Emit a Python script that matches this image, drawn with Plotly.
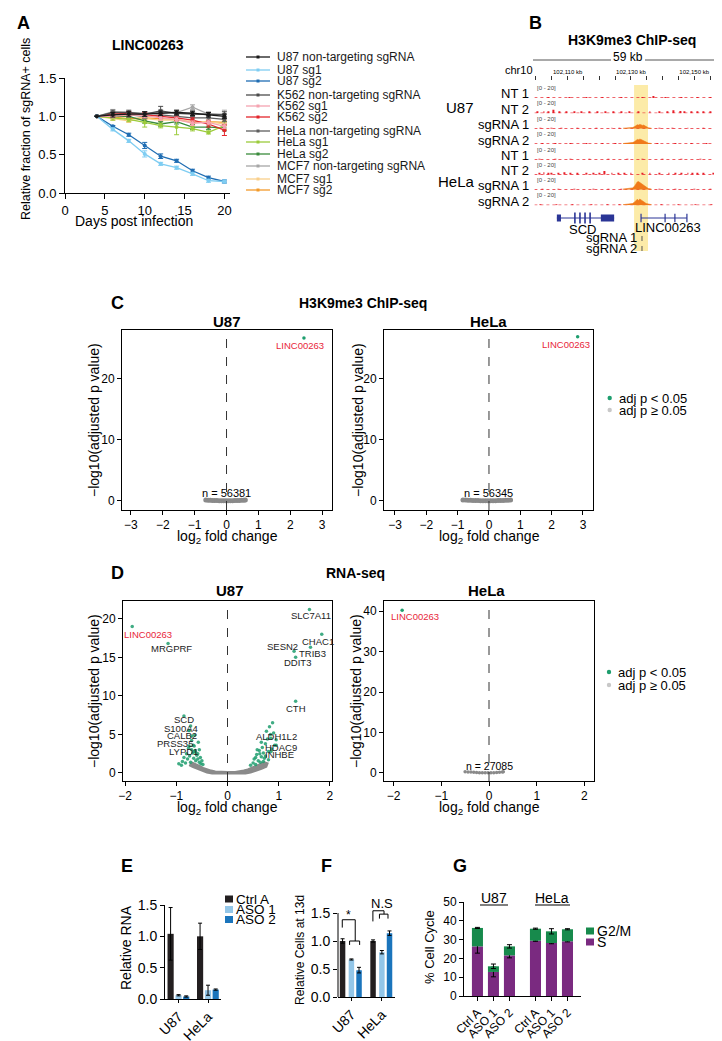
import plotly.graph_objects as go

W, H = 722, 1041
FONT = "Liberation Sans, Arial, Helvetica, sans-serif"

# ================= Panel A data =================
days = [4, 6, 8, 10, 12, 14, 16, 18, 20]
u87_nt = [1.00, 1.02, 1.03, 1.03, 1.04, 1.05, 1.04, 1.02, 1.00]
u87_nt_err = [0.00, 0.03, 0.03, 0.03, 0.03, 0.03, 0.03, 0.03, 0.03]
u87_sg1 = [1.00, 0.83, 0.68, 0.51, 0.38, 0.33, 0.25, 0.16, 0.15]
u87_sg1_err = [0.00, 0.02, 0.02, 0.04, 0.02, 0.02, 0.02, 0.02, 0.02]
u87_sg2 = [1.00, 0.87, 0.76, 0.62, 0.48, 0.42, 0.29, 0.20, 0.15]
u87_sg2_err = [0.00, 0.01, 0.02, 0.04, 0.03, 0.02, 0.02, 0.02, 0.02]
k562_nt = [1.00, 1.05, 1.05, 1.03, 1.07, 1.04, 1.03, 1.03, 1.02]
k562_nt_err = [0.00, 0.03, 0.03, 0.03, 0.06, 0.03, 0.03, 0.02, 0.04]
k562_sg1 = [1.00, 1.00, 1.02, 1.01, 0.98, 0.96, 0.91, 0.92, 0.87]
k562_sg1_err = [0.00, 0.02, 0.02, 0.03, 0.03, 0.03, 0.03, 0.03, 0.03]
k562_sg2 = [1.00, 1.03, 1.04, 1.02, 1.00, 0.98, 0.95, 0.90, 0.82]
k562_sg2_err = [0.00, 0.02, 0.02, 0.03, 0.03, 0.03, 0.03, 0.04, 0.07]
hela_nt = [1.00, 1.03, 1.02, 1.00, 1.02, 1.00, 0.98, 0.98, 0.96]
hela_nt_err = [0.00, 0.03, 0.03, 0.03, 0.03, 0.03, 0.03, 0.03, 0.03]
hela_sg1 = [1.00, 0.98, 0.96, 0.92, 0.88, 0.86, 0.84, 0.79, 0.88]
hela_sg1_err = [0.00, 0.03, 0.03, 0.06, 0.03, 0.10, 0.03, 0.02, 0.05]
hela_sg2 = [1.00, 1.00, 1.00, 0.94, 0.90, 0.93, 0.86, 0.86, 0.85]
hela_sg2_err = [0.00, 0.02, 0.02, 0.03, 0.03, 0.03, 0.03, 0.03, 0.04]
mcf7_nt = [1.00, 1.06, 1.05, 1.04, 1.05, 1.05, 1.12, 1.03, 1.03]
mcf7_nt_err = [0.00, 0.03, 0.02, 0.02, 0.04, 0.03, 0.03, 0.03, 0.05]
mcf7_sg1 = [1.00, 0.97, 0.94, 0.97, 0.95, 0.95, 0.93, 0.93, 0.90]
mcf7_sg1_err = [0.00, 0.02, 0.02, 0.02, 0.02, 0.02, 0.02, 0.02, 0.02]
mcf7_sg2 = [1.00, 0.99, 0.97, 0.98, 0.97, 0.96, 0.92, 0.93, 0.92]
mcf7_sg2_err = [0.00, 0.02, 0.02, 0.02, 0.02, 0.02, 0.02, 0.02, 0.02]
a_names = ["U87 non-targeting sgRNA", "U87 sg1", "U87 sg2",
           "K562 non-targeting sgRNA", "K562 sg1", "K562 sg2",
           "HeLa non-targeting sgRNA", "HeLa sg1", "HeLa sg2",
           "MCF7 non-targeting sgRNA", "MCF7 sg1", "MCF7 sg2"]
a_colors = ["#1a1a1a", "#7fcdf2", "#1f6db3", "#4d4d4d", "#f5a3b0", "#e3262c",
            "#5e5e5e", "#9bcb3b", "#3a8b3c", "#a6a6a6", "#f9cf8a", "#f39a2a"]
a_values = [u87_nt, u87_sg1, u87_sg2, k562_nt, k562_sg1, k562_sg2,
            hela_nt, hela_sg1, hela_sg2, mcf7_nt, mcf7_sg1, mcf7_sg2]
a_errors = [u87_nt_err, u87_sg1_err, u87_sg2_err, k562_nt_err, k562_sg1_err, k562_sg2_err,
            hela_nt_err, hela_sg1_err, hela_sg2_err, mcf7_nt_err, mcf7_sg1_err, mcf7_sg2_err]

# ================= Panel B data (kb, chr10) =================
genome_window = [102099.5, 102158.5]
ruler_ticks_kb = [102100, 102105, 102110, 102115, 102120, 102125,
                  102130, 102135, 102140, 102145, 102150, 102155]
ruler_labels = ["", "", "102,110 kb", "", "", "", "102,130 kb", "", "", "", "102,150 kb", ""]
track_labels = ["NT 1", "NT 2", "sgRNA 1", "sgRNA 2", "NT 1", "NT 2", "sgRNA 1", "sgRNA 2"]
u87_nt1_pos = [102104.0, 102110.5, 102116.0, 102121.0, 102127.0, 102133.5, 102137.0, 102141.0, 102146.0, 102151.0, 102155.0]
u87_nt1_h = [0.8, 0.8, 0.8, 0.8, 0.8, 1.5, 3.0, 0.8, 0.8, 0.8, 0.8]
u87_nt2_pos = [102100.5, 102102.5, 102104.0, 102105.5, 102107.5, 102109.5, 102112.0, 102114.5, 102117.0,
               102119.5, 102122.0, 102124.5, 102127.0, 102129.5, 102132.5, 102136.0, 102139.0, 102141.5,
               102143.5, 102145.5, 102147.0, 102149.0, 102151.0, 102153.0, 102155.0, 102157.5]
u87_nt2_h = [2, 3, 2.5, 6, 2, 3, 2, 3, 2, 2, 3, 2, 3, 2, 3, 2, 2, 2, 5, 4, 2, 3, 3, 2, 2, 5]
u87_sg1_pos = [102101.5, 102105.0, 102108.0, 102113.0, 102119.0, 102124.0, 102126.5, 102139.0, 102143.0, 102148.0, 102153.0, 102157.0]
u87_sg1_h = [0.8, 0.8, 0.8, 0.8, 0.8, 0.8, 1.5, 1.2, 0.8, 0.8, 0.8, 1.0]
u87_sg2_pos = [102102.0, 102106.0, 102111.0, 102116.0, 102121.0, 102125.0, 102138.5, 102144.0, 102149.0, 102154.0]
u87_sg2_h = [0.8, 0.8, 0.8, 0.8, 0.8, 1.2, 1.2, 0.8, 0.8, 0.8]
hela_nt1_pos = [102101.0, 102106.0, 102111.0, 102117.0, 102123.0, 102129.0, 102133.5, 102140.0, 102146.0, 102152.0, 102157.0]
hela_nt1_h = [0.8, 0.8, 0.8, 0.8, 0.8, 0.8, 1.5, 0.8, 0.8, 0.8, 0.8]
hela_nt2_pos = [102101.0, 102102.5, 102104.0, 102105.0, 102107.0, 102109.0, 102111.0, 102113.0, 102116.0,
                102118.0, 102120.0, 102121.5, 102124.0, 102126.0, 102128.0, 102130.0, 102133.5, 102136.0,
                102139.0, 102142.0, 102144.0, 102146.0, 102148.0, 102149.5, 102151.0, 102153.0, 102156.0]
hela_nt2_h = [2, 4, 3, 2, 3, 4, 2, 2, 2, 2, 3, 6, 3, 2, 2, 2, 2, 2, 3, 3, 2, 2, 3, 3, 3, 2, 2]
hela_sg1_pos = [102102.0, 102107.0, 102112.0, 102118.0, 102123.0, 102127.0, 102139.0, 102144.0, 102150.0, 102155.0]
hela_sg1_h = [0.8, 1.0, 0.8, 0.8, 0.8, 1.5, 1.2, 0.8, 1.2, 0.8]
hela_sg2_pos = [102101.5, 102106.5, 102111.5, 102117.5, 102122.5, 102126.5, 102139.5, 102145.0, 102150.5, 102155.5]
hela_sg2_h = [0.8, 0.8, 0.8, 0.8, 0.8, 1.5, 1.2, 0.8, 0.8, 0.8]
peak_pos = [102127.5, 102128.5, 102129.5, 102130.5, 102131.2, 102131.6, 102132.0, 102132.4,
            102132.8, 102133.2, 102133.6, 102134.0, 102134.4, 102134.8, 102135.5, 102136.5]
u87_sg1_peak = [0.8, 1.0, 1.2, 2.0, 3.5, 5.0, 6.5, 6.0, 7.0, 6.5, 5.5, 6.0, 4.5, 3.0, 1.5, 0.8]
u87_sg2_peak = [0.8, 1.0, 1.5, 2.5, 4.0, 6.0, 7.5, 7.0, 8.0, 7.5, 6.5, 5.5, 4.5, 3.0, 1.5, 0.8]
hela_sg1_peak = [1.0, 1.5, 2.0, 3.0, 6.0, 10.0, 13.0, 13.5, 12.0, 10.0, 8.5, 7.0, 5.5, 3.5, 2.0, 1.0]
hela_sg2_peak = [1.0, 1.5, 2.0, 3.0, 5.5, 8.5, 10.0, 8.0, 10.5, 9.0, 7.0, 6.0, 4.5, 3.0, 1.8, 1.0]
scd_span = [102106.6, 102124.7]
scd_blocks = [[102106.6, 102107.9], [102120.5, 102124.7]]
scd_thin_exons = [102112.3, 102113.9, 102115.5, 102117.1]
linc_span = [102133.2, 102147.7]
linc_exons = [102133.2, 102140.8, 102143.9, 102147.7]
sgrna_site_kb = 102133.5
highlight_kb = [102131.0, 102135.4]

# ================= Panel C data =================
c_u87_sig_fc = [2.43]
c_u87_sig_p = [26.7]
c_u87_ns_fc = [-0.65, -0.58, -0.51, -0.44, -0.37, -0.30, -0.23, -0.16, -0.09, -0.02,
               0.05, 0.12, 0.19, 0.26, 0.33, 0.40, 0.47, 0.54, 0.59]
c_u87_ns_p = [0.15, 0.10, 0.08, 0.06, 0.05, 0.04, 0.03, 0.02, 0.02, 0.01,
              0.02, 0.02, 0.03, 0.04, 0.05, 0.06, 0.08, 0.10, 0.14]
c_hela_sig_fc = [2.83]
c_hela_sig_p = [26.9]
c_hela_ns_fc = [-0.83, -0.75, -0.67, -0.59, -0.51, -0.43, -0.35, -0.27, -0.19, -0.11,
                -0.03, 0.05, 0.13, 0.21, 0.29, 0.37, 0.45, 0.53, 0.61, 0.69]
c_hela_ns_p = [0.15, 0.12, 0.10, 0.08, 0.06, 0.05, 0.04, 0.03, 0.02, 0.02,
               0.01, 0.02, 0.02, 0.03, 0.04, 0.05, 0.06, 0.08, 0.10, 0.13]

# ================= Panel D data =================
d_u87_ns_fc = [-0.70, -0.62, -0.55, -0.48, -0.40, -0.32, -0.24, -0.15, 0.00, 0.15, 0.24, 0.32, 0.40,
               0.48, 0.56, 0.64, 0.72, 0.77, 0.75, 0.66, 0.56, 0.45, 0.35, 0.00, -0.30, -0.40,
               -0.50, -0.60, -0.68, -0.72]
d_u87_ns_p = [1.30, 1.10, 0.85, 0.60, 0.40, 0.25, 0.14, 0.07, 0.05, 0.07, 0.14, 0.25, 0.40,
              0.60, 0.85, 1.10, 1.30, 1.20, 0.85, 0.60, 0.35, 0.12, 0.00, 0.00, 0.00, 0.12,
              0.35, 0.60, 0.85, 1.00]
d_u87_sig_fc = [-0.95, -0.90, -0.88, -0.85, -0.82, -0.80, -0.78, -0.76, -0.74, -0.72, -0.70, -0.70,
                -0.68, -0.66, -0.65, -0.63, -0.62, -0.60, -0.58, -0.57, -0.55, -0.53, -0.52, -0.50,
                -0.48, -0.75, -0.72, -0.64, -0.67, -0.62, -0.58, -0.55,
                0.45, 0.50, 0.52, 0.55, 0.57, 0.60, 0.62, 0.64, 0.66, 0.68, 0.70, 0.72, 0.74,
                0.76, 0.78, 0.80, 0.82, 0.84, 0.86, 0.88, 0.90, 0.92, 0.95, 0.63, 0.55, 0.70,
                0.58, 0.66, 0.74, 0.80]
d_u87_sig_p = [1.2, 1.0, 1.5, 2.0, 1.3, 2.5, 1.8, 3.2, 2.2, 1.4, 3.0, 4.2,
               2.6, 1.9, 3.5, 2.9, 1.6, 2.3, 1.8, 4.0, 1.4, 2.0, 1.2, 1.6,
               1.1, 5.5, 6.1, 4.9, 3.6, 2.7, 2.5, 3.0,
               1.0, 1.3, 1.8, 1.1, 2.4, 1.6, 2.9, 1.4, 2.1, 3.3, 2.6, 1.9, 3.8,
               5.4, 4.4, 2.8, 6.0, 5.0, 3.1, 6.5, 5.2, 3.6, 4.3, 2.5, 2.0, 1.5,
               3.0, 4.0, 2.2, 1.7]
d_u87_genes = ["LINC00263", "MRGPRF", "SLC7A11", "CHAC1", "SESN2", "TRIB3", "DDIT3", "CTH",
               "SCD", "S100A4", "CALB2", "PRSS35", "LYPD1", "ALDH1L2", "HDAC9", "INHBE"]
d_u87_gene_fc = [-1.86, -1.16, 1.60, 1.84, 1.30, 1.62, 1.33, 1.33,
                 -0.85, -0.75, -0.70, -0.75, -0.65, 0.85, 0.95, 0.85]
d_u87_gene_p = [19.0, 16.8, 21.2, 18.0, 15.8, 16.3, 15.0, 9.3,
                7.4, 5.5, 4.8, 3.5, 2.8, 4.5, 3.6, 2.8]
d_u87_label_fc = [-1.55, -1.10, 1.63, 1.77, 1.08, 1.65, 1.37, 1.34,
                  -0.85, -0.91, -0.89, -1.03, -0.85, 0.95, 1.04, 1.02]
d_u87_label_p = [17.9, 16.2, 20.4, 17.1, 16.4, 15.5, 14.3, 8.4,
                 6.9, 5.8, 4.8, 3.8, 2.8, 4.7, 3.3, 2.4]
d_hela_sig_fc = [-1.82]
d_hela_sig_p = [40.2]
d_hela_ns_fc = [-0.50, -0.44, -0.38, -0.32, -0.26, -0.20, -0.14, -0.08, -0.02, 0.04, 0.10, 0.16, 0.22, 0.28, 0.30]
d_hela_ns_p = [0.30, 0.25, 0.20, 0.15, 0.10, 0.06, 0.04, 0.02, 0.01, 0.02, 0.04, 0.08, 0.14, 0.22, 0.28]

# ================= Panel E / F / G data =================
cell_lines = ["U87", "HeLa"]
e_ctrl = [1.04, 1.00]
e_ctrl_err = [0.42, 0.21]
e_aso1 = [0.06, 0.14]
e_aso1_err = [0.01, 0.08]
e_aso2 = [0.04, 0.15]
e_aso2_err = [0.01, 0.01]
f_ctrl = [1.00, 1.00]
f_ctrl_err = [0.04, 0.02]
f_aso1 = [0.67, 0.80]
f_aso1_err = [0.01, 0.03]
f_aso2 = [0.48, 1.14]
f_aso2_err = [0.05, 0.04]
g_labels = ["Ctrl A", "ASO 1", "ASO 2", "Ctrl A", "ASO 1", "ASO 2"]
g_s = [26.4, 12.8, 21.6, 29.4, 28.2, 29.1]
g_s_err = [3.6, 2.6, 1.3, 0.3, 0.4, 0.3]
g_g2m = [9.8, 3.0, 4.8, 6.4, 6.2, 6.4]
g_g2m_err = [0.3, 1.2, 0.9, 0.3, 1.4, 0.3]
g_pos = [0, 1, 2, 3.625, 4.625, 5.625]

C_CTRL, C_ASO1, C_ASO2 = "#231f20", "#93c6e8", "#1b75bc"
C_G2M, C_S = "#178a4c", "#7a2a80"
GREEN, GRAY, RED = "#1e9e6e", "#8a8a8a", "#e8263a"

# ================= helpers =================
fig = go.Figure()
ann, shp = [], []


def xd(a, b):
    return [a / W, b / W]


def yd(top, bottom):
    return [1 - bottom / H, 1 - top / H]


def ptext(xp, yp, s, size=12, bold=False, color="black", xanchor="center", yanchor="middle", angle=0):
    ann.append(dict(x=xp / W, y=1 - yp / H, xref="paper", yref="paper",
                    text=(f"<b>{s}</b>" if bold else s), showarrow=False,
                    font=dict(size=size, color=color, family=FONT),
                    xanchor=xanchor, yanchor=yanchor, textangle=angle, borderpad=0))


def dtext(x, y, xr, yr, s, size=9.5, color="black", xanchor="center", yanchor="middle"):
    ann.append(dict(x=x, y=y, xref=xr, yref=yr, text=s, showarrow=False,
                    font=dict(size=size, color=color, family=FONT),
                    xanchor=xanchor, yanchor=yanchor, borderpad=0))


def pline(x0, y0, x1, y1, color="black", width=1):
    shp.append(dict(type="line", xref="paper", yref="paper", x0=x0 / W, y0=1 - y0 / H,
                    x1=x1 / W, y1=1 - y1 / H, line=dict(color=color, width=width)))


def prect(x0, y0, x1, y1, color):
    shp.append(dict(type="rect", xref="paper", yref="paper", x0=x0 / W, y0=1 - y0 / H,
                    x1=x1 / W, y1=1 - y1 / H, line=dict(width=0), fillcolor=color))


def pdot(xc, yc, r, color):
    shp.append(dict(type="circle", xref="paper", yref="paper", x0=(xc - r) / W, y0=1 - (yc + r) / H,
                    x1=(xc + r) / W, y1=1 - (yc - r) / H, line=dict(width=0), fillcolor=color))


def axis(domain, rng, size=12, **kw):
    d = dict(domain=domain, range=rng, autorange=False, showgrid=False, zeroline=False,
             showline=True, linecolor="black", linewidth=1, ticks="outside", ticklen=4,
             tickwidth=1, tickcolor="black", tickfont=dict(size=size, color="black", family=FONT),
             fixedrange=True, automargin=False)
    d.update(kw)
    return d


layout = dict(width=W, height=H, margin=dict(l=0, r=0, t=0, b=0, pad=0, autoexpand=False), autosize=False,
              paper_bgcolor="white", plot_bgcolor="rgba(0,0,0,0)", showlegend=False,
              barmode="overlay", font=dict(family=FONT, color="black"))

# ================= Panel A =================
layout["xaxis"] = axis(xd(57, 222), [0, 20.7], size=13, anchor="y", ticklen=5, tickvals=[0, 5, 10, 15, 20])
layout["yaxis"] = axis(yd(70, 185), [0, 1.5], size=13, anchor="x", ticklen=5,
                       tickvals=[0, 0.5, 1.0, 1.5], tickformat=".1f")
for name, vals, errs, col in reversed(list(zip(a_names, a_values, a_errors, a_colors))):
    fig.add_trace(go.Scatter(x=days, y=vals, name=name, mode="lines+markers",
                             line=dict(color=col, width=1.3), marker=dict(size=4, color=col),
                             error_y=dict(type="data", array=errs, color=col, thickness=1, width=2.5),
                             xaxis="x", yaxis="y", cliponaxis=False))
ptext(15, 15, "A", 18, bold=True)
ptext(140, 37, "LINC00263", 14, bold=True)
ptext(18, 121, "Relative fraction of sgRNA+ cells", 12.5, angle=-90)
ptext(126, 213, "Days post infection", 14)
a_leg_y = [49, 62, 73, 87, 98, 109, 123, 134, 146, 158, 171, 182]
for name, col, ly in zip(a_names, a_colors, a_leg_y):
    pline(238, ly, 262, ly, col, 1.3)
    prect(248.5, ly - 1.5, 251.5, ly + 1.5, col)
    ptext(268, ly, name, 12, color="#1a1a1a", xanchor="left")

# ================= Panel B =================
track_bases = [90, 105.3, 120.7, 136, 151.7, 166.7, 181.7, 197.3]
layout["xaxis2"] = axis(xd(526.4, 713.1), genome_window, size=6, anchor="free", position=1 - 72 / H,
                        side="top", showline=False, tickvals=ruler_ticks_kb, ticktext=ruler_labels,
                        ticklen=4, tickcolor="#333")
for i, b in enumerate(track_bases):
    layout[f"yaxis{2 + i}"] = dict(domain=yd(b - 12, b), range=[0, 20], anchor="x2",
                                   visible=False, fixedrange=True, automargin=False)
layout["yaxis10"] = dict(domain=yd(203, 217), range=[0, 1], anchor="x2", visible=False,
                         fixedrange=True, automargin=False)

spikes = [(u87_nt1_pos, u87_nt1_h), (u87_nt2_pos, u87_nt2_h), (u87_sg1_pos, u87_sg1_h),
          (u87_sg2_pos, u87_sg2_h), (hela_nt1_pos, hela_nt1_h), (hela_nt2_pos, hela_nt2_h),
          (hela_sg1_pos, hela_sg1_h), (hela_sg2_pos, hela_sg2_h)]
peaks = {2: u87_sg1_peak, 3: u87_sg2_peak, 6: hela_sg1_peak, 7: hela_sg2_peak}
for i, (pos, hh) in enumerate(spikes):
    ya = f"y{2 + i}"
    fig.add_trace(go.Scatter(x=genome_window, y=[0.3, 0.3], mode="lines", xaxis="x2", yaxis=ya,
                             line=dict(color="#e8202a", width=1, dash="dot")))
    fig.add_trace(go.Bar(x=pos, y=hh, width=0.3, marker=dict(color="#e8202a", line=dict(width=0)),
                         xaxis="x2", yaxis=ya))
    if i in peaks:
        fig.add_trace(go.Scatter(x=peak_pos, y=peaks[i], mode="lines", fill="tozeroy",
                                 line=dict(color="#f07a1a", width=0.6), fillcolor="#f07a1a",
                                 xaxis="x2", yaxis=ya))
    ptext(522, track_bases[i] - 4, track_labels[i], 13, xanchor="right")
    ptext(528, track_bases[i] - 10, "[0 - 20]", 6, color="#444", xanchor="left")

# gene models
GENE_C = "#2a3596"
fig.add_trace(go.Scatter(x=scd_span, y=[0.5, 0.5], mode="lines", line=dict(color=GENE_C, width=1),
                         xaxis="x2", yaxis="y10"))
bx, by = [], []
for s, e in scd_blocks:
    bx += [s, e, None]
    by += [0.5, 0.5, None]
fig.add_trace(go.Scatter(x=bx, y=by, mode="lines", line=dict(color=GENE_C, width=7),
                         xaxis="x2", yaxis="y10"))
tx, ty = [], []
for e in scd_thin_exons:
    tx += [e, e, None]
    ty += [0.1, 0.9, None]
fig.add_trace(go.Scatter(x=tx, y=ty, mode="lines", line=dict(color=GENE_C, width=1.6),
                         xaxis="x2", yaxis="y10"))
fig.add_trace(go.Scatter(x=linc_span, y=[0.5, 0.5], mode="lines", line=dict(color=GENE_C, width=1),
                         xaxis="x2", yaxis="y10"))
lx, ly_ = [], []
for e in linc_exons:
    lx += [e, e, None]
    ly_ += [0.2, 0.8, None]
fig.add_trace(go.Scatter(x=lx, y=ly_, mode="lines", line=dict(color=GENE_C, width=1.2),
                         xaxis="x2", yaxis="y10"))
shp.append(dict(type="rect", xref="x2", yref="paper", x0=highlight_kb[0], x1=highlight_kb[1],
                y0=1 - 243 / H, y1=1 - 77 / H, fillcolor="rgba(250,222,110,0.6)",
                line=dict(width=0), layer="below"))
for yy0, yy1 in [(228, 233), (238, 243)]:
    shp.append(dict(type="line", xref="x2", yref="paper", x0=sgrna_site_kb, x1=sgrna_site_kb,
                    y0=1 - yy1 / H, y1=1 - yy0 / H, line=dict(color="#555", width=1)))
ptext(574, 221, "SCD", 13)
ptext(660, 219, "LINC00263", 13)
ptext(630, 230, "sgRNA 1", 13, xanchor="right")
ptext(630, 240.5, "sgRNA 2", 13, xanchor="right")
ptext(527, 15, "B", 18, bold=True)
ptext(624, 32, "H3K9me3 ChIP-seq", 14, bold=True)
ptext(620, 49, "59 kb", 12)
pline(525, 52, 603, 52, "#555", 1)
pline(637, 52, 712, 52, "#555", 1)
ptext(511, 62, "chr10", 11)
ptext(452, 99, "U87", 15)
ptext(449, 173, "HeLa", 15)

# ================= Panel C =================
minus_ticks3 = ["\u22123", "\u22122", "\u22121", "0", "1", "2", "3"]
layout["xaxis3"] = axis(xd(114, 324), [-3.28, 3.31], anchor="y11", mirror=True,
                        tickvals=[-3, -2, -1, 0, 1, 2, 3], ticktext=minus_ticks3)
layout["yaxis11"] = axis(yd(322, 502), [-1.5, 28], anchor="x3", mirror=True, tickvals=[0, 10, 20])
layout["xaxis4"] = axis(xd(376, 585), [-3.35, 3.32], anchor="y12", mirror=True,
                        tickvals=[-3, -2, -1, 0, 1, 2, 3], ticktext=minus_ticks3)
layout["yaxis12"] = axis(yd(322, 502), [-1.5, 28], anchor="x4", mirror=True, tickvals=[0, 10, 20])
for xa, ya, nsx, nsy, sx, sy, ntxt, yr in [
        ("x3", "y11", c_u87_ns_fc, c_u87_ns_p, c_u87_sig_fc, c_u87_sig_p, "n = 56381", [-1.5, 28]),
        ("x4", "y12", c_hela_ns_fc, c_hela_ns_p, c_hela_sig_fc, c_hela_sig_p, "n = 56345", [-1.5, 28])]:
    shp.append(dict(type="line", xref=xa, yref=ya, x0=0, x1=0, y0=yr[0], y1=yr[1],
                    line=dict(color="#333", width=1, dash="dash")))
    fig.add_trace(go.Scatter(x=nsx, y=nsy, mode="markers", marker=dict(size=5, color=GRAY),
                             xaxis=xa, yaxis=ya))
    fig.add_trace(go.Scatter(x=sx, y=sy, mode="markers", marker=dict(size=3.5, color=GREEN),
                             xaxis=xa, yaxis=ya))
    dtext(0, 1.3, xa, ya, ntxt, 11, yanchor="middle")
dtext(3.08, 25.5, "x3", "y11", "LINC00263", 9.5, RED, xanchor="right")
dtext(3.25, 25.7, "x4", "y12", "LINC00263", 9.5, RED, xanchor="right")
ptext(110, 295, "C", 18, bold=True)
ptext(355, 295, "H3K9me3 ChIP-seq", 14, bold=True)
ptext(219, 313, "U87", 15, bold=True)
ptext(480, 313, "HeLa", 15, bold=True)
ptext(86, 412, "\u2212log10(adjusted p value)", 14, angle=-90)
ptext(350, 412, "\u2212log10(adjusted p value)", 14, angle=-90)
ptext(219, 529, "log<sub>2</sub> fold change", 14)
ptext(481, 529, "log<sub>2</sub> fold change", 14)
pdot(601.7, 390, 2.2, GREEN)
ptext(610, 390, "adj p < 0.05", 13, xanchor="left")
pdot(601.7, 402, 2.2, "#c8c8c8")
ptext(610, 402, "adj p \u2265 0.05", 13, xanchor="left")

# ================= Panel D =================
minus_ticks2 = ["\u22122", "\u22121", "0", "1", "2"]
layout["xaxis5"] = axis(xd(115, 324), [-2.04, 2.04], anchor="y13", mirror=True,
                        tickvals=[-2, -1, 0, 1, 2], ticktext=minus_ticks2)
layout["yaxis13"] = axis(yd(593, 773), [-1.04, 22.3], anchor="x5", mirror=True, tickvals=[0, 5, 10, 15, 20])
layout["xaxis6"] = axis(xd(376, 586), [-2.2, 2.2], anchor="y14", mirror=True,
                        tickvals=[-2, -1, 0, 1, 2], ticktext=minus_ticks2)
layout["yaxis14"] = axis(yd(593, 773), [-2.0, 42.5], anchor="x6", mirror=True, tickvals=[0, 10, 20, 30, 40])
shp.append(dict(type="line", xref="x5", yref="y13", x0=0, x1=0, y0=-1.04, y1=22.3,
                line=dict(color="#333", width=1, dash="dash")))
shp.append(dict(type="line", xref="x6", yref="y14", x0=0, x1=0, y0=-2.0, y1=42.5,
                line=dict(color="#333", width=1, dash="dash")))
fig.add_trace(go.Scatter(x=d_u87_ns_fc + [d_u87_ns_fc[0]], y=d_u87_ns_p + [d_u87_ns_p[0]],
                         mode="lines", fill="toself", fillcolor=GRAY, line=dict(color=GRAY, width=3),
                         xaxis="x5", yaxis="y13"))
fig.add_trace(go.Scatter(x=d_u87_sig_fc + d_u87_gene_fc, y=d_u87_sig_p + d_u87_gene_p, mode="markers",
                         marker=dict(size=3.5, color=GREEN, opacity=0.85), xaxis="x5", yaxis="y13"))
for g, lx_, ly2 in zip(d_u87_genes, d_u87_label_fc, d_u87_label_p):
    dtext(lx_, ly2, "x5", "y13", g, 9.5, RED if g == "LINC00263" else "#222")
fig.add_trace(go.Scatter(x=d_hela_ns_fc, y=d_hela_ns_p, mode="markers", marker=dict(size=3.5, color=GRAY),
                         xaxis="x6", yaxis="y14"))
fig.add_trace(go.Scatter(x=d_hela_sig_fc, y=d_hela_sig_p, mode="markers", marker=dict(size=3.5, color=GREEN),
                         xaxis="x6", yaxis="y14"))
dtext(-2.08, 38.6, "x6", "y14", "LINC00263", 9.5, RED, xanchor="left")
dtext(0, 1.8, "x6", "y14", "n = 27085", 10.5)
ptext(109, 565, "D", 18, bold=True)
ptext(347, 565, "RNA-seq", 14, bold=True)
ptext(222, 582, "U87", 15, bold=True)
ptext(478, 582, "HeLa", 15, bold=True)
ptext(86, 683, "\u2212log10(adjusted p value)", 14, angle=-90)
ptext(348, 683, "\u2212log10(adjusted p value)", 14, angle=-90)
ptext(220, 800, "log<sub>2</sub> fold change", 14)
ptext(481, 800, "log<sub>2</sub> fold change", 14)
pdot(601, 664, 2.2, GREEN)
ptext(609, 664, "adj p < 0.05", 13, xanchor="left")
pdot(601, 677, 2.2, "#c8c8c8")
ptext(609, 677, "adj p \u2265 0.05", 13, xanchor="left")

# ================= Panel E =================
grp = [0, 1]
layout["xaxis7"] = axis(xd(157, 213), [-0.46, 1.44], size=14, anchor="y15", tickvals=grp,
                        ticktext=cell_lines, tickangle=-45, ticklen=3)
layout["yaxis15"] = axis(yd(897, 991), [0, 1.5], size=14, anchor="x7", tickvals=[0, 0.5, 1.0, 1.5],
                         tickformat=".1f")
bw = 0.21
for vals, errs, col, off in [(e_ctrl, e_ctrl_err, C_CTRL, -0.27), (e_aso1, e_aso1_err, C_ASO1, 0.0),
                             (e_aso2, e_aso2_err, C_ASO2, 0.26)]:
    fig.add_trace(go.Bar(x=grp, y=vals, width=bw, offset=off - bw / 2, marker=dict(color=col, line=dict(width=0)),
                         error_y=dict(type="data", array=errs, color="black", thickness=1, width=2),
                         xaxis="x7", yaxis="y15"))
ptext(119, 858, "E", 18, bold=True)
ptext(118, 940, "Relative RNA", 14, angle=-90)
for lyy, lab, col in [(891, "Ctrl A", C_CTRL), (901.5, "ASO 1", C_ASO1), (911.5, "ASO 2", C_ASO2)]:
    prect(217, lyy - 3.5, 225, lyy + 3.5, col)
    ptext(227, lyy, lab, 13.5, xanchor="left")

# ================= Panel F =================
layout["xaxis8"] = axis(xd(330, 387), [-0.44, 1.43], size=14, anchor="y16", tickvals=grp,
                        ticktext=cell_lines, tickangle=-45, ticklen=3)
layout["yaxis16"] = axis(yd(898.3, 989), [0, 1.62], size=14, anchor="x8", showline=False,
                         tickvals=[0, 0.5, 1.0, 1.5], tickformat=".1f")
shp.append(dict(type="line", xref="x8 domain", yref="y16", x0=0, x1=0, y0=0, y1=1.5,
                line=dict(color="black", width=1)))
bw = 0.18
for vals, errs, col, off in [(f_ctrl, f_ctrl_err, C_CTRL, -0.29), (f_aso1, f_aso1_err, C_ASO1, 0.0),
                             (f_aso2, f_aso2_err, C_ASO2, 0.25)]:
    fig.add_trace(go.Bar(x=grp, y=vals, width=bw, offset=off - bw / 2, marker=dict(color=col, line=dict(width=0)),
                         error_y=dict(type="data", array=errs, color="black", thickness=1, width=2),
                         xaxis="x8", yaxis="y16"))
for path in ["M -0.30,1.24 L -0.30,1.38 L 0.125,1.38 L 0.125,1.0",
             "M -0.06,0.93 L -0.06,1.0 L 0.27,1.0 L 0.27,0.93",
             "M 0.705,1.35 L 0.705,1.54 L 1.07,1.54 L 1.07,1.48",
             "M 0.92,1.40 L 0.92,1.48 L 1.20,1.48 L 1.20,1.40"]:
    shp.append(dict(type="path", xref="x8", yref="y16", path=path, line=dict(color="black", width=1)))
dtext(-0.08, 1.46, "x8", "y16", "*", 12)
ptext(374, 895, "N.S", 13)
ptext(318, 858, "F", 18, bold=True)
ptext(292, 942, "Relative Cells at 13d", 12, angle=-90)

# ================= Panel G =================
layout["xaxis9"] = axis(xd(456, 573), [-0.84, 6.47], size=12, anchor="y17", tickvals=g_pos,
                        ticktext=g_labels, tickangle=-45, ticklen=4)
layout["yaxis17"] = axis(yd(894, 988), [0, 50], size=12, anchor="x9", tickvals=[0, 10, 20, 30, 40, 50])
fig.add_trace(go.Bar(x=g_pos, y=g_s, width=0.69, marker=dict(color=C_S, line=dict(width=0)),
                     error_y=dict(type="data", array=g_s_err, color="black", thickness=1, width=2.5),
                     xaxis="x9", yaxis="y17"))
fig.add_trace(go.Bar(x=g_pos, y=g_g2m, base=g_s, width=0.69, marker=dict(color=C_G2M, line=dict(width=0)),
                     error_y=dict(type="data", array=g_g2m_err, color="black", thickness=1, width=2.5),
                     xaxis="x9", yaxis="y17"))
ptext(452, 858, "G", 18, bold=True)
ptext(421, 939, "% Cell Cycle", 13, angle=-90)
ptext(486, 890, "U87", 14)
pline(472, 897, 500, 897, "black", 1)
ptext(544, 890, "HeLa", 14)
pline(527, 897, 562, 897, "black", 1)
for lyy, lab, col in [(923, "G2/M", C_G2M), (934, "S", C_S)]:
    prect(578, lyy - 3.5, 586, lyy + 3.5, col)
    ptext(588, lyy, lab, 14, xanchor="left")

layout["annotations"] = ann
layout["shapes"] = shp
fig.update_layout(**layout)
fig.write_html("out.html")
